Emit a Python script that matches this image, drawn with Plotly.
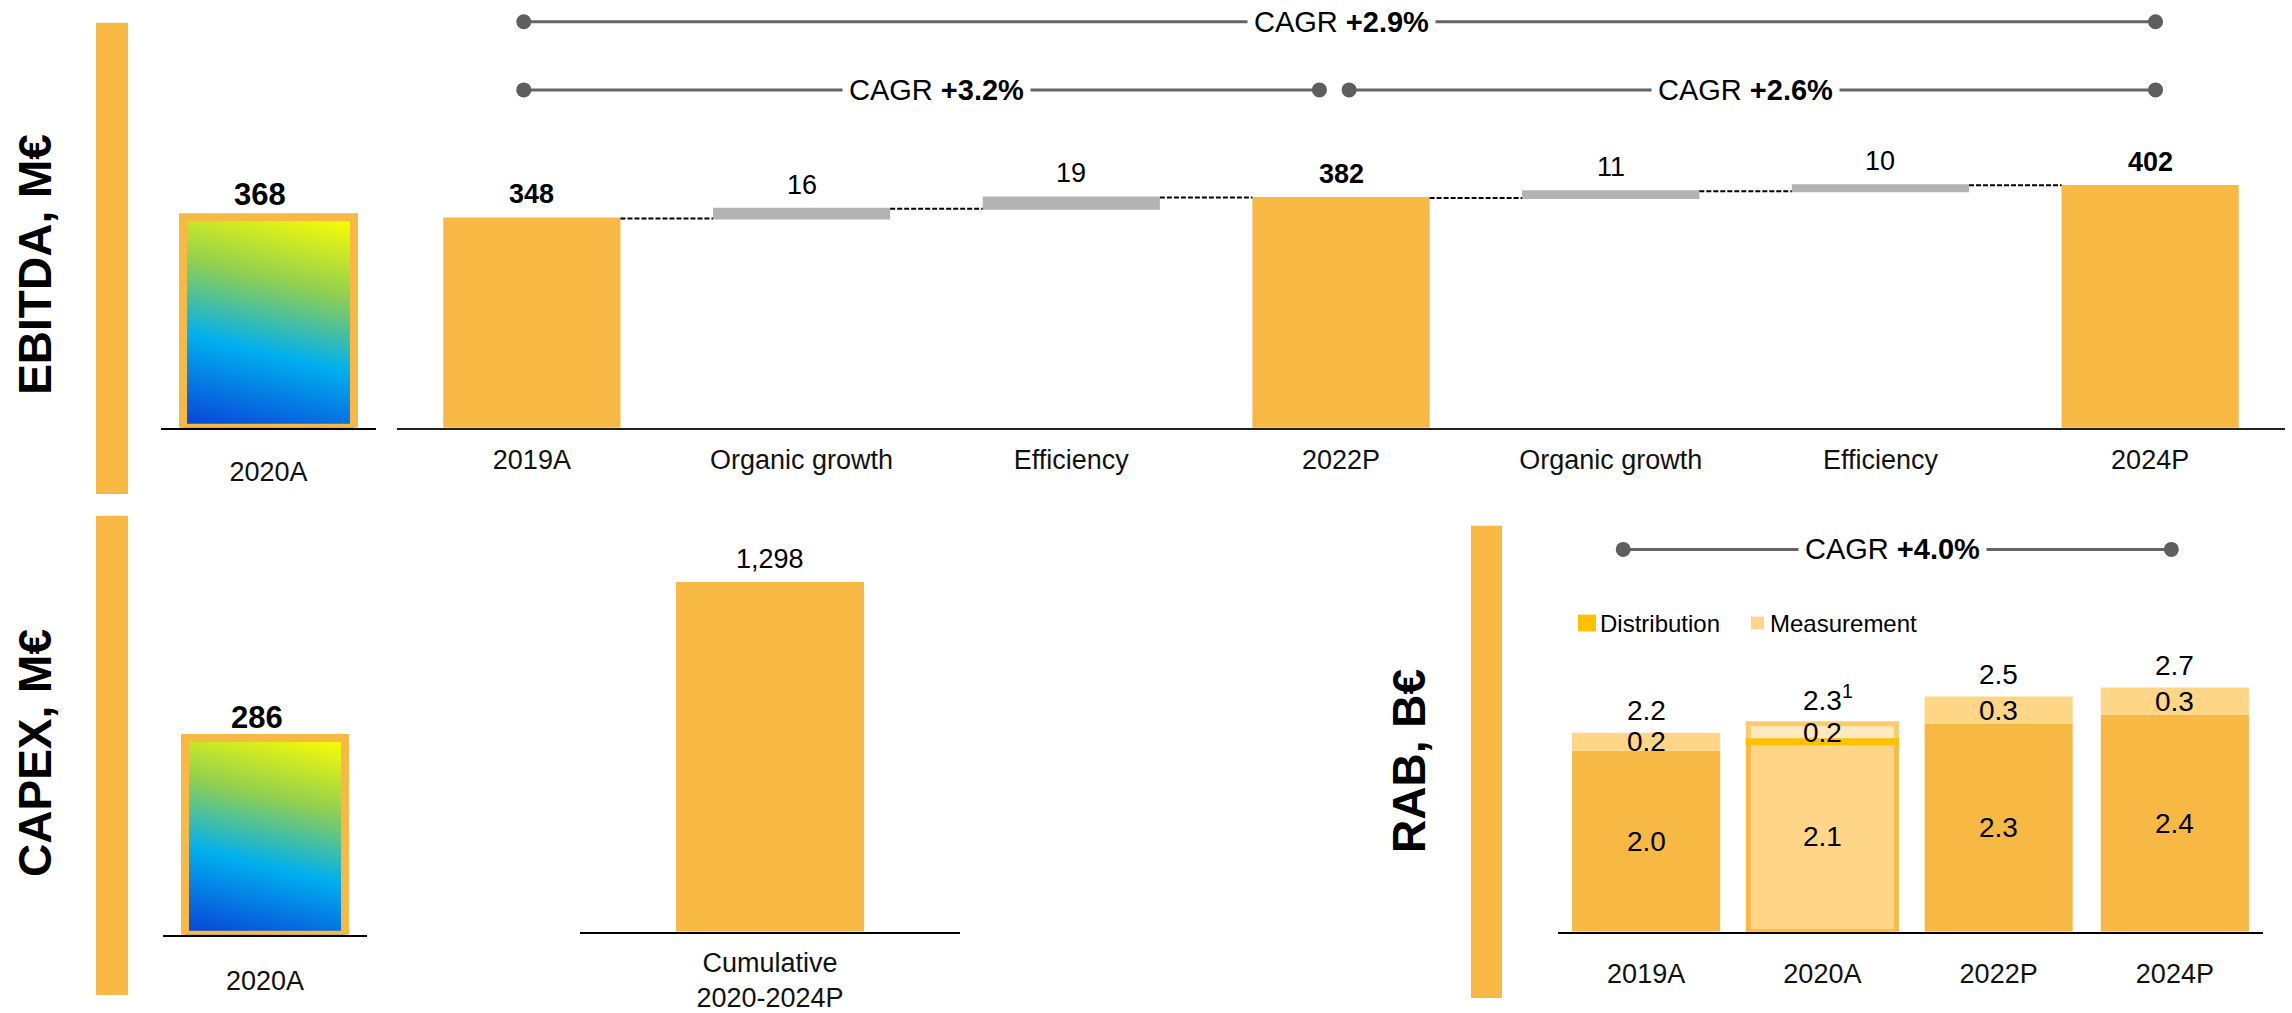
import numpy as np
import plotly.graph_objects as go

W, H = 2292, 1013
FONT = "Liberation Sans, Arial, sans-serif"

# ---------------- data ----------------
ebitda_steps = ["2019A", "Organic growth", "Efficiency", "2022P", "Organic growth", "Efficiency", "2024P"]
ebitda_measure = ["absolute", "relative", "relative", "absolute", "relative", "relative", "absolute"]
ebitda_values = [348, 16, 19, 382, 11, 10, 402]
ebitda_2020_label = "2020A"
ebitda_2020 = 368

capex_2020_label = "2020A"
capex_2020 = 286
capex_cum_label = "Cumulative<br>2020-2024P"
capex_cum = 1298

rab_years = ["2019A", "2020A", "2022P", "2024P"]
rab_distribution = [2.0, 2.1, 2.3, 2.4]
rab_measurement = [0.2, 0.2, 0.3, 0.3]
rab_total = [2.2, 2.3, 2.5, 2.7]
rab_total_note = ["", "1", "", ""]

cagr_2019_2024 = "+2.9%"
cagr_2019_2022 = "+3.2%"
cagr_2022_2024 = "+2.6%"
cagr_rab = "+4.0%"

# ---------------- colours ----------------
ORANGE = "#F7B944"
GREY_BAR = "#B3B3B3"
LIGHT = "#FFD685"
BRIGHT = "#FFC000"
LINE_GREY = "#646464"
TXT = "#111111"


def px_x(p):
    return p / W


def px_y(p):
    return 1 - p / H


fig = go.Figure()

# ---------------- EBITDA bridge ----------------
EB_BASE, EB_SCALE = 433, 0.609
fig.add_trace(go.Waterfall(
    x=list(range(len(ebitda_values))), y=ebitda_values, measure=ebitda_measure,
    width=0.657,
    increasing=dict(marker=dict(color=GREY_BAR)),
    decreasing=dict(marker=dict(color=GREY_BAR)),
    totals=dict(marker=dict(color=ORANGE)),
    connector=dict(mode="between", line=dict(color="#000000", width=2, dash="5px,2px")),
    hoverinfo="skip", xaxis="x", yaxis="y",
))


def gradient_tile(value, width, xa, ya):
    nx, ny = 40, 60
    xe = np.linspace(-width / 2, width / 2, nx + 1)
    ye = np.linspace(0, value, ny + 1)
    u = (np.arange(nx) + 0.5) / nx
    v = (np.arange(ny) + 0.5) / ny
    t = (v[:, None] + 0.19 * u[None, :]) / 1.19
    fig.add_trace(go.Heatmap(
        x=xe, y=ye, z=t, zmin=0, zmax=1, zsmooth="best", showscale=False,
        colorscale=[[0, "#0A3FD6"], [0.38, "#00B0F0"], [0.68, "#92D050"], [1, "#FFFF00"]],
        hoverinfo="skip", xaxis=xa, yaxis=ya,
    ))
    fig.add_trace(go.Bar(
        x=[0], y=[value], width=width,
        marker=dict(color="rgba(0,0,0,0)", line=dict(color=ORANGE, width=8)),
        hoverinfo="skip", xaxis=xa, yaxis=ya,
    ))


# EBITDA 2020A tile
EB2_BASE, EB2_SCALE = 433, 0.579
gradient_tile(ebitda_2020, 0.795, "x2", "y2")

# CAPEX 2020A tile
CP_BASE, CP_SCALE = 946, 0.696
gradient_tile(capex_2020, 0.784, "x3", "y3")

# CAPEX cumulative
CC_BASE, CC_SCALE = 943, 0.2727
fig.add_trace(go.Bar(x=[0], y=[capex_cum], width=0.495, marker=dict(color=ORANGE, line_width=0),
                     hoverinfo="skip", xaxis="x4", yaxis="y4"))

# ---------------- RAB ----------------
RB_BASE, RB_SCALE = 943, 91.6
rx = list(range(len(rab_years)))
dist_colors = [ORANGE, "#FFD687", ORANGE, ORANGE]
meas_colors = [LIGHT, "#FFE9BF", LIGHT, LIGHT]
frame_w = [0, 5, 0, 0]
fig.add_trace(go.Bar(
    x=rx, y=rab_distribution, width=0.84,
    marker=dict(color=dist_colors, line=dict(color="#F9BA45", width=frame_w)),
    hoverinfo="skip", xaxis="x5", yaxis="y5",
))
fig.add_trace(go.Bar(
    x=rx, y=rab_measurement, base=rab_distribution, width=0.84,
    marker=dict(color=meas_colors, line=dict(color="#FBCB6E", width=frame_w)),
    hoverinfo="skip", xaxis="x5", yaxis="y5",
))
# highlight stripe between the two 2020A segments
hi = rab_years.index("2020A")
fig.add_trace(go.Scatter(
    x=[hi - 0.435, hi + 0.435], y=[rab_distribution[hi]] * 2, mode="lines",
    line=dict(color=BRIGHT, width=7), hoverinfo="skip", xaxis="x5", yaxis="y5",
))

# ---------------- axes ----------------
axis_common = dict(showgrid=False, zeroline=False, ticks="", fixedrange=True)
lab_font = dict(family=FONT, size=27, color=TXT)

fig.update_layout(
    xaxis=dict(domain=[px_x(397), px_x(2285)], range=[-0.5, 6.5], tickmode="array",
               tickvals=list(range(len(ebitda_steps))), ticktext=ebitda_steps,
               showline=True, linecolor="#222222", linewidth=2, tickfont=lab_font,
               ticklabelstandoff=7, **axis_common),
    yaxis=dict(domain=[px_y(EB_BASE), 1], range=[0, EB_BASE / EB_SCALE], visible=False, **axis_common),
    xaxis2=dict(domain=[px_x(161), px_x(376)], range=[-0.5, 0.5], tickmode="array", tickvals=[0],
                ticktext=[ebitda_2020_label], showline=True, linecolor="#000000", linewidth=1.5,
                tickfont=lab_font, ticklabelstandoff=19, anchor="y2", **axis_common),
    yaxis2=dict(domain=[px_y(EB2_BASE), 1], range=[0, EB2_BASE / EB2_SCALE], visible=False,
                anchor="x2", **axis_common),
    xaxis3=dict(domain=[px_x(163), px_x(367)], range=[-0.5, 0.5], tickmode="array", tickvals=[0],
                ticktext=[capex_2020_label], showline=True, linecolor="#000000", linewidth=1.5,
                tickfont=lab_font, ticklabelstandoff=21, anchor="y3", **axis_common),
    yaxis3=dict(domain=[px_y(CP_BASE), px_y(520)], range=[0, (CP_BASE - 520) / CP_SCALE], visible=False,
                anchor="x3", **axis_common),
    xaxis4=dict(domain=[px_x(580), px_x(960)], range=[-0.5, 0.5], tickmode="array", tickvals=[0],
                ticktext=[capex_cum_label], showline=True, linecolor="#000000", linewidth=2,
                tickfont=lab_font, ticklabelstandoff=6, anchor="y4", **axis_common),
    yaxis4=dict(domain=[px_y(CC_BASE), px_y(520)], range=[0, (CC_BASE - 520) / CC_SCALE], visible=False,
                anchor="x4", **axis_common),
    xaxis5=dict(domain=[px_x(1558), px_x(2263)], range=[-0.5, 3.5], tickmode="array", tickvals=rx,
                ticktext=rab_years, showline=True, linecolor="#000000", linewidth=2,
                tickfont=lab_font, ticklabelstandoff=17, anchor="y5", **axis_common),
    yaxis5=dict(domain=[px_y(RB_BASE), px_y(520)], range=[0, (RB_BASE - 520) / RB_SCALE], visible=False,
                anchor="x5", **axis_common),
)

shapes = []
annotations = []

# section markers
for (y0, y1, x0, x1) in [(23, 500, 96, 128), (522, 1007, 96, 128), (532, 1010, 1471, 1502)]:
    shapes.append(dict(type="rect", xref="paper", yref="paper", x0=px_x(x0), x1=px_x(x1),
                       y0=px_y(y1), y1=px_y(y0), fillcolor=ORANGE, line_width=0, layer="below"))

# section titles
for text, cx, cy in [("EBITDA, M€", 35, 268), ("CAPEX, M€", 35, 762), ("RAB, B€", 1409, 770)]:
    annotations.append(dict(text=f"<b>{text}</b>", x=px_x(cx), y=px_y(cy), xref="paper", yref="paper",
                            textangle=-90, showarrow=False, font=dict(family=FONT, size=46, color="#000000"),
                            xanchor="center", yanchor="middle"))

# EBITDA value labels
level = 0
for i, (m, v) in enumerate(zip(ebitda_measure, ebitda_values)):
    level = v if m == "absolute" else level + v
    txt = f"<b>{v}</b>" if m == "absolute" else f"{v}"
    annotations.append(dict(text=txt, x=i, y=level, xref="x", yref="y", showarrow=False, yshift=24,
                            yanchor="middle", font=dict(family=FONT, size=27, color="#000000")))

# tile labels
annotations.append(dict(text=f"<b>{ebitda_2020}</b>", x=0, y=ebitda_2020, xref="x2", yref="y2",
                        showarrow=False, yshift=23, xshift=-9, yanchor="middle",
                        font=dict(family=FONT, size=31, color="#000000")))
annotations.append(dict(text=f"<b>{capex_2020}</b>", x=0, y=capex_2020, xref="x3", yref="y3",
                        showarrow=False, yshift=21, xshift=-8, yanchor="middle",
                        font=dict(family=FONT, size=31, color="#000000")))
annotations.append(dict(text=f"{capex_cum:,}", x=0, y=capex_cum, xref="x4", yref="y4",
                        showarrow=False, yshift=23, yanchor="middle",
                        font=dict(family=FONT, size=27, color="#000000")))

# RAB labels
for i in rx:
    d, m, t = rab_distribution[i], rab_measurement[i], rab_total[i]
    annotations.append(dict(text=f"{d:.1f}", x=i, y=d / 2, xref="x5", yref="y5", showarrow=False,
                            yanchor="middle", font=dict(family=FONT, size=28, color="#000000")))
    annotations.append(dict(text=f"{m:.1f}", x=i, y=d + m / 2, xref="x5", yref="y5", showarrow=False,
                            yanchor="middle", font=dict(family=FONT, size=28, color="#000000")))
    note = rab_total_note[i]
    ttxt = f"{t:.1f}" + (f"<sup>{note}</sup>" if note else "")
    annotations.append(dict(text=ttxt, x=i, y=d + m, xref="x5", yref="y5", showarrow=False,
                            yshift=26 if note else 22, xshift=6 if note else 0, yanchor="middle",
                            font=dict(family=FONT, size=28, color="#000000")))

# legend
for (x0, x1, y0, y1, col, label, tx) in [(1578, 1596, 622, 639, BRIGHT, "Distribution", 1598),
                                          (1751, 1764, 624, 637, LIGHT, "Measurement", 1768)]:
    shapes.append(dict(type="rect", xref="paper", yref="paper", x0=px_x(x0), x1=px_x(x1),
                       y0=px_y(y1), y1=px_y(y0), fillcolor=col, line_width=0))
    annotations.append(dict(text=label, x=px_x(tx), y=px_y(631), xref="paper", yref="paper",
                            showarrow=False, xanchor="left", yanchor="middle",
                            font=dict(family=FONT, size=24, color="#000000")))


# CAGR brackets
def cagr(xref, xa, xb, ypx, label, xmid):
    yv = px_y(ypx)
    shapes.append(dict(type="line", xref=xref, yref="paper", x0=xa, x1=xb, y0=yv, y1=yv,
                       line=dict(color=LINE_GREY, width=3)))
    for xv in (xa, xb):
        shapes.append(dict(type="circle", xref=xref, yref="paper", xsizemode="pixel", ysizemode="pixel",
                           xanchor=xv, yanchor=yv, x0=-7.5, x1=7.5, y0=-7.5, y1=7.5,
                           fillcolor="#5E5E5E", line_width=0))
    annotations.append(dict(text=f"CAGR <b>{label}</b>", x=xmid, y=yv, xref=xref, yref="paper",
                            showarrow=False, bgcolor="white", borderpad=6, xanchor="center",
                            yanchor="middle", font=dict(family=FONT, size=29, color="#000000")))


cagr("x", -0.03, 6.02, 22, cagr_2019_2024, 3.0)
cagr("x", -0.03, 2.92, 91, cagr_2019_2022, 1.5)
cagr("x", 3.03, 6.02, 91, cagr_2022_2024, 4.5)
cagr("x5", -0.13, 2.98, 556, cagr_rab, 1.4)

fig.update_layout(
    width=W, height=H, autosize=False, margin=dict(l=0, r=0, t=0, b=0),
    paper_bgcolor="white", plot_bgcolor="white",
    showlegend=False, barmode="overlay",
    shapes=shapes, annotations=annotations,
    font=dict(family=FONT, color=TXT),
)

fig.write_html("out.html")
